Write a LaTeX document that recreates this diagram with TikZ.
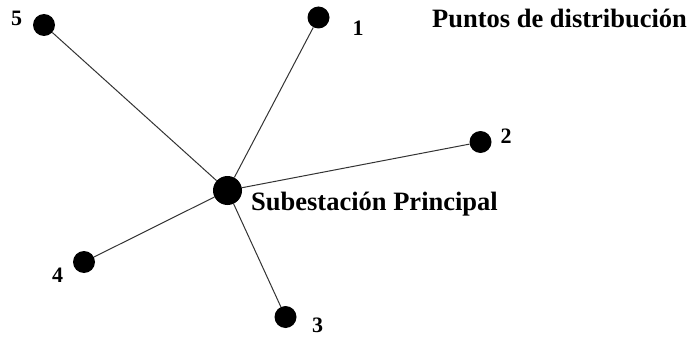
\documentclass[tikz,border=0pt]{standalone}
\usepackage{fontspec}
\setmainfont{Liberation Serif}
\begin{document}
\begin{tikzpicture}[x=1pt,y=-1pt,
  dot/.style={circle,fill=black,inner sep=0pt,minimum size=22pt},
  hub/.style={circle,fill=black,inner sep=0pt,minimum size=29pt},
  conn/.style={draw=black!80,line width=1pt},
  num/.style={font=\fontsize{22}{26}\selectfont\bfseries,inner sep=0pt},
  ttl/.style={font=\fontsize{26.5}{31}\selectfont\bfseries,inner sep=0pt,anchor=base west}]
\useasboundingbox (0,0) rectangle (691,337);
\node[hub] (h) at (227.5,190.5) {};
\node[dot] (d5) at (44,25) {};
\node[dot] (d1) at (318.5,17.5) {};
\node[dot] (d2) at (480.5,142) {};
\node[dot] (d4) at (84,262) {};
\node[dot] (d3) at (285.5,317) {};
\foreach \d in {d1,d2,d3,d4,d5} \draw[conn] (h) -- (\d);
\node[num] (l5) at (16.5,18.5) {5};
\node[num] (l1) at (358,28) {1};
\node[num] (l2) at (506,136.5) {2};
\node[num] (l4) at (57.5,275.5) {4};
\node[num] (l3) at (317.5,325) {3};
\node[ttl] (t1) at (432,28) {Puntos de distribución};
\node[ttl] (t2) at (251,210) {Subestación Principal};
\end{tikzpicture}
\end{document}
